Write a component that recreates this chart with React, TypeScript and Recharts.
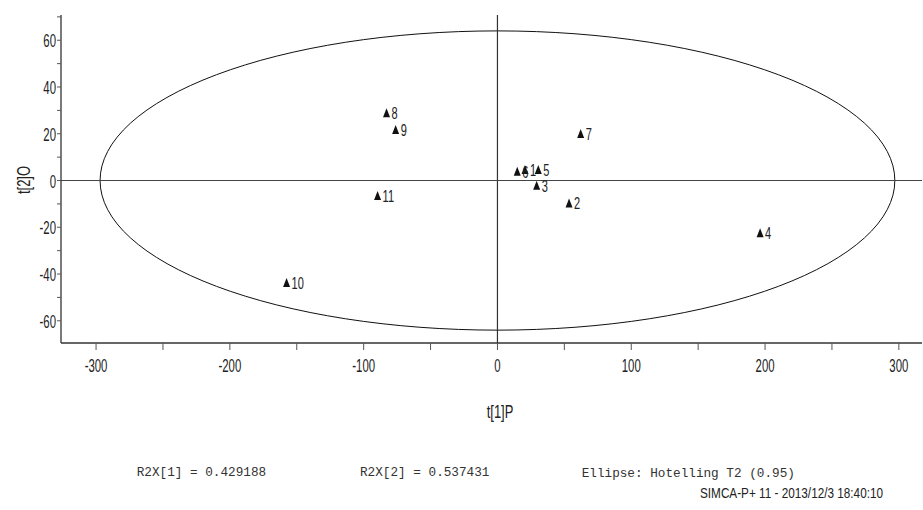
import { ScatterChart, Scatter, XAxis, YAxis, ReferenceLine, ReferenceArea } from "recharts";

const sampleIds = ["1", "2", "3", "4", "5", "6", "7", "8", "9", "10", "11"];
const t1Scores = [20.6, 53.5, 29.3, 196.3, 30.5, 14.8, 62.2, -82.9, -76.1, -157.6, -89.6];
const t2Scores = [4.5, -9.8, -2.2, -22.6, 4.5, 3.8, 19.9, 28.8, 21.6, -43.8, -6.6];

const xTicks = [-300, -250, -200, -150, -100, -50, 0, 50, 100, 150, 200, 250, 300];
const yTicks = [-60, -50, -40, -30, -20, -10, 0, 10, 20, 30, 40, 50, 60, 70];

// Hotelling T2 (0.95) ellipse semi-axes
const ellipseT1 = 297;
const ellipseT2 = 64;

const points = sampleIds.map((id, i) => ({ id, x: t1Scores[i], y: t2Scores[i] }));

const NARROW = "'Liberation Sans', Arial, sans-serif";
const INK = "#222";

const XTick = (props: any) => {
  const { x, y, payload } = props;
  if (payload.value % 100 !== 0) return <g />;
  return (
    <text
      transform={`translate(${x},${y + 22}) scale(0.6,1)`}
      textAnchor="middle"
      fontFamily={NARROW}
      fontSize={19}
      fill={INK}
    >
      {payload.value}
    </text>
  );
};

const YTick = (props: any) => {
  const { x, y, payload } = props;
  if (payload.value % 20 !== 0) return <g />;
  return (
    <text
      transform={`translate(${x},${y + 7}) scale(0.6,1)`}
      textAnchor="end"
      fontFamily={NARROW}
      fontSize={19}
      fill={INK}
    >
      {payload.value}
    </text>
  );
};

const TriangleMark = (props: any) => {
  const { cx, cy, payload } = props;
  return (
    <g>
      <path d={`M${cx},${cy - 5}L${cx + 3.5},${cy + 4}L${cx - 3.5},${cy + 4}Z`} fill="#111" />
      <text
        transform={`translate(${cx + 5},${cy + 6}) scale(0.65,1)`}
        fontFamily={NARROW}
        fontSize={17}
        fill={INK}
      >
        {payload.id}
      </text>
    </g>
  );
};

const EllipseShape = (props: any) => {
  const { x, y, width, height } = props;
  return (
    <ellipse
      cx={x + width / 2}
      cy={y + height / 2}
      rx={width / 2}
      ry={height / 2}
      fill="none"
      stroke="#111"
      strokeWidth={1}
    />
  );
};

export default function App() {
  return (
    <div style={{ position: "absolute", left: 0, top: 0, width: 923, height: 510, background: "#fff" }}>
      <ScatterChart width={923} height={510} margin={{ top: 15, right: 1, left: 0, bottom: 0 }}>
        <XAxis
          type="number"
          dataKey="x"
          domain={[-326.2, 317.3]}
          allowDataOverflow
          ticks={xTicks}
          interval={0}
          height={167}
          tickSize={7}
          tickMargin={0}
          tick={XTick}
          axisLine={{ stroke: "#333", strokeWidth: 1.3 }}
          tickLine={{ stroke: "#555" }}
        />
        <YAxis
          type="number"
          dataKey="y"
          domain={[-69.5, 70.8]}
          allowDataOverflow
          ticks={yTicks}
          interval={0}
          width={61}
          tickSize={4}
          tickMargin={1}
          tick={YTick}
          axisLine={{ stroke: "#333", strokeWidth: 1.3 }}
          tickLine={{ stroke: "#555" }}
        />
        <ReferenceArea
          x1={-ellipseT1}
          x2={ellipseT1}
          y1={-ellipseT2}
          y2={ellipseT2}
          shape={EllipseShape}
        />
        <ReferenceLine x={0} stroke="#333" strokeWidth={1.2} />
        <ReferenceLine y={0} stroke="#444" strokeWidth={1.2} />
        <Scatter data={points} shape={TriangleMark} isAnimationActive={false} />
      </ScatterChart>
      <svg
        width={923}
        height={510}
        style={{ position: "absolute", left: 0, top: 0, pointerEvents: "none" }}
      >
        <text
          transform="translate(30,180) rotate(-90) scale(0.72,1)"
          textAnchor="middle"
          fontFamily={NARROW}
          fontSize={18}
          fill={INK}
        >
          t[2]O
        </text>
        <text
          transform="translate(500,418) scale(0.72,1)"
          textAnchor="middle"
          fontFamily={NARROW}
          fontSize={18}
          fill={INK}
        >
          t[1]P
        </text>
        <text x={136.7} y={476} fontFamily="'Liberation Mono', monospace" fontSize={12.7} fill="#333">
          R2X[1] = 0.429188
        </text>
        <text x={360} y={476} fontFamily="'Liberation Mono', monospace" fontSize={12.7} fill="#333">
          R2X[2] = 0.537431
        </text>
        <text x={581.7} y={477} fontFamily="'Liberation Mono', monospace" fontSize={12.7} fill="#333">
          Ellipse: Hotelling T2 (0.95)
        </text>
        <text
          x={700}
          y={497.5}
          fontFamily={NARROW}
          fontSize={14}
          textLength={183}
          lengthAdjust="spacingAndGlyphs"
          fill={INK}
        >
          SIMCA-P+ 11 - 2013/12/3 18:40:10
        </text>
      </svg>
    </div>
  );
}
